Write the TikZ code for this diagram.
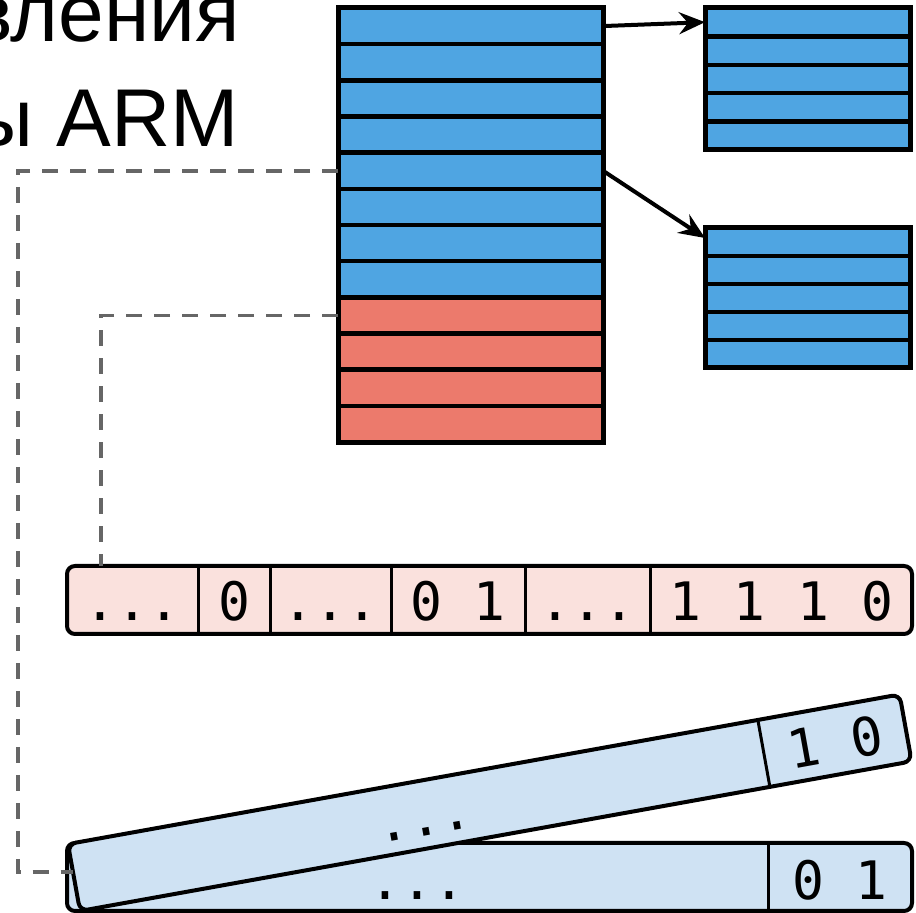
\documentclass[tikz,border=0pt]{standalone}
\usepackage{fontspec}
\newfontfamily\monofont{DejaVu Sans Mono}
\newfontfamily\titlefont{Liberation Sans}
\usetikzlibrary{calc,arrows.meta}
\definecolor{cellblue}{HTML}{4FA5E2}
\definecolor{cellred}{HTML}{EC7A6C}
\definecolor{pinkL}{HTML}{FAE1DD}
\definecolor{blueL}{HTML}{CFE2F3}
\definecolor{dashgray}{HTML}{666666}
\begin{document}
\begin{tikzpicture}[x=1pt,y=1pt,
  cell/.style={draw, line width=4.5pt, inner sep=0pt, outer sep=0pt, minimum width=265pt, minimum height=36.17pt},
  rcell/.style={draw, line width=4.5pt, inner sep=0pt, outer sep=0pt, minimum width=205pt, fill=cellblue},
  bar/.style={draw, line width=4pt, rounded corners=8pt, inner sep=0pt, outer sep=0pt, minimum width=845pt, minimum height=68pt},
  divline/.style={line width=3pt},
  bits/.style={font=\monofont\fontsize{53}{60}\selectfont, inner sep=0pt, anchor=base},
  title/.style={font=\titlefont\fontsize{82}{90}\selectfont, inner sep=0pt, anchor=base east},
  arr/.style={line width=4pt, -{Stealth[length=26pt,width=22pt,inset=9pt]}},
  dashconn/.style={dashgray, line width=3.8pt, dash pattern=on 16pt off 12pt}
]
\useasboundingbox (0,0) rectangle (916,913);

% title (partially visible)
\node[title] (t1) at (240,871) {вления};
\node[title] (t2) at (239,766) {ы ARM};

% bars (needed for connector targets)
\node[bar, fill=pinkL] (pink) at (489.5,313) {};
\node[bar, fill=blueL] (flat) at (489.5,36) {};

% main stack
\foreach \i in {1,...,12}{
  \ifnum\i<9 \def\fc{cellblue}\else\def\fc{cellred}\fi
  \node[cell, fill=\fc] (m\i) at (470.5,{905-36.17*(\i-0.5)}) {};
}
\draw[line width=5pt] (m1.north west) rectangle (m12.south east);

% right tables
\foreach \i in {1,...,5}{
  \node[rcell, minimum height=28.4pt] (a\i) at (807.5,{905-28.4*(\i-0.5)}) {};
}
\draw[line width=5pt] (a1.north west) rectangle (a5.south east);
\foreach \i in {1,...,5}{
  \node[rcell, minimum height=28pt] (b\i) at (807.5,{685-28*(\i-0.5)}) {};
}
\draw[line width=5pt] (b1.north west) rectangle (b5.south east);

% arrows
\draw[arr] (m1.east) -- (a1.west);
\draw[arr] (m5.east) -- ($(b1.west)+(0,4)$);

% pink bar dividers and bits
\foreach \x in {198,270,391,525,650}{
  \draw[divline] ($(pink.north west)+(\x-67,0)$) -- ($(pink.south west)+(\x-67,0)$);
}
\node[bits] (p1) at (132.5,292) {...};
\node[bits] (p2) at (234,292) {0};
\node[bits] (p3) at (330.5,292) {...};
\node[bits] (p4) at (458,292) {0 1};
\node[bits] (p5) at (587.5,292) {...};
\node[bits] (p6) at (781.5,292) {1 1 1 0};

% flat blue bar dividers and bits
\draw[divline] ($(flat.north west)+(701,0)$) -- ($(flat.south west)+(701,0)$);
\node[bits] (f1) at (417.5,13) {...};
\node[bits] (f2) at (840,13) {0 1};

% tilted blue bar
\begin{scope}[shift={(80,2)}, rotate=10.2]
  \node[bar, fill=blueL, transform shape, anchor=south west] (tilt) at (0,0) {};
  \draw[divline] (701,0) -- (701,68);
  \node[bits, transform shape] (g1) at (355,13) {...};
  \node[bits, transform shape] (g2) at (773,13) {1 0};
\end{scope}
\coordinate (tl) at ($(tilt.south west)!0.58!(tilt.north west)$);

% dashed connectors
\draw[dashconn] (m5.west) -- ++(-320,0) |- (tl);
\draw[dashconn] (m9.west) -| ($(pink.north west)+(34,0)$);
\end{tikzpicture}
\end{document}
